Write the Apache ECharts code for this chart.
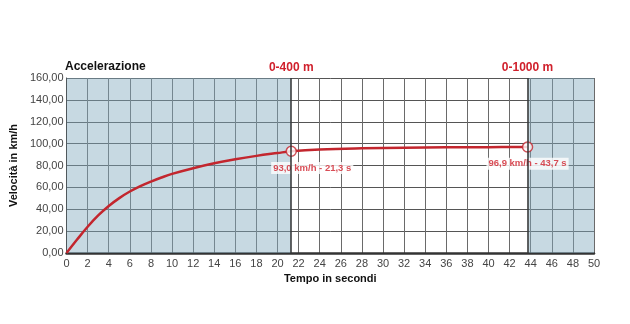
<!DOCTYPE html>
<html><head><meta charset="utf-8">
<script src="https://cdn.jsdelivr.net/npm/echarts@6/dist/echarts.min.js"></script>
<style>html,body{margin:0;padding:0;background:#fff}#c{width:630px;height:324px}</style>
</head><body><div id="c"></div>
<script>
const times  = [0, 1, 2, 3, 4, 5, 6, 7, 8, 9, 10, 12, 14, 16, 18, 20, 21.3, 24, 28, 32, 36, 40, 43.7];
const speeds = [0, 12.3, 24, 34.3, 43, 50.2, 56.2, 61.2, 65.3, 69, 72.3, 77.5, 82, 85.7, 88.8, 91.4, 93.0, 94.6, 95.7, 96.3, 96.6, 96.8, 96.9];
const milestoneTimes  = [21.3, 43.7];
const milestoneSpeeds = [93.0, 96.9];
const milestoneNames  = ['0-400 m', '0-1000 m'];
const shadedRanges = [[0, 21.3], [43.7, 50]];
const xTicks = {min: 0, max: 50, interval: 2};
const yTicks = {min: 0, max: 160, interval: 20};

const fmtNum = v => v.toFixed(1).replace('.', ',');
const chart = echarts.init(document.getElementById('c'), null, {renderer: 'canvas'});
const F = '"Liberation Sans", Arial, sans-serif';
const RED = '#c3262e';

chart.setOption({
  animation: false,
  textStyle: {fontFamily: F},
  title: {text: 'Accelerazione', left: 65, top: 61, padding: 0, textStyle: {fontSize: 12, fontWeight: 'bold', color: '#111', fontFamily: F}},
  grid: {left: 64, right: 36, top: 78, bottom: 71},
  xAxis: {
    type: 'value', min: xTicks.min, max: xTicks.max, interval: xTicks.interval,
    name: 'Tempo in secondi', nameLocation: 'middle', nameGap: 18,
    nameTextStyle: {fontSize: 11, fontWeight: 'bold', color: '#111', fontFamily: F},
    axisLine: {lineStyle: {color: '#333', width: 2.5}},
    axisTick: {show: false},
    axisLabel: {fontSize: 11, color: '#444', margin: 5, fontFamily: F},
    splitLine: {show: true, lineStyle: {color: '#6a6a6a', width: 1}}
  },
  yAxis: {
    type: 'value', min: yTicks.min, max: yTicks.max, interval: yTicks.interval,
    name: 'Velocità in km/h', nameLocation: 'middle', nameGap: 44, nameRotate: 90,
    nameTextStyle: {fontSize: 11, fontWeight: 'bold', color: '#111', fontFamily: F},
    axisLine: {show: true, lineStyle: {color: '#444', width: 1}},
    axisTick: {show: false},
    axisLabel: {fontSize: 11, color: '#444', margin: 3, fontFamily: F, formatter: v => v.toFixed(2).replace('.', ',')},
    splitLine: {show: true, lineStyle: {color: '#555', width: 1}}
  },
  series: [
    {
      type: 'line', data: [], silent: true, z: 1,
      markArea: {
        silent: true,
        itemStyle: {color: 'rgba(130,170,190,0.45)'},
        data: shadedRanges.map(r => [{xAxis: r[0]}, {xAxis: r[1]}])
      },
      markLine: {
        silent: true, symbol: ['none', 'none'],
        lineStyle: {color: '#333', width: 1.5, type: 'solid'},
        label: {show: true, position: 'end', distance: 4, color: '#d0202c', fontSize: 12, fontWeight: 'bold', fontFamily: F,
                formatter: p => p.name},
        data: milestoneTimes.map((t, i) => ({xAxis: t, name: milestoneNames[i]}))
      }
    },
    {
      type: 'line', smooth: 0.4, symbol: 'none', z: 3,
      lineStyle: {color: RED, width: 2.5},
      data: times.map((t, i) => [t, speeds[i]])
    },
    {
      type: 'scatter', z: 4, symbol: 'circle', symbolSize: 10,
      itemStyle: {color: '#fff', borderColor: RED, borderWidth: 1.5},
      label: {
        show: true, position: 'bottom', distance: 5,
        color: '#d0202c', fontSize: 9.5, fontWeight: 'bold', fontFamily: F,
        backgroundColor: '#fff', padding: [1, 2],
        formatter: p => fmtNum(p.value[1]) + ' km/h - ' + fmtNum(p.value[0]) + ' s'
      },
      labelLayout: p => p.dataIndex === 0 ? {dx: 21} : {},
      data: milestoneTimes.map((t, i) => [t, milestoneSpeeds[i]])
    }
  ]
});
</script></body></html>
